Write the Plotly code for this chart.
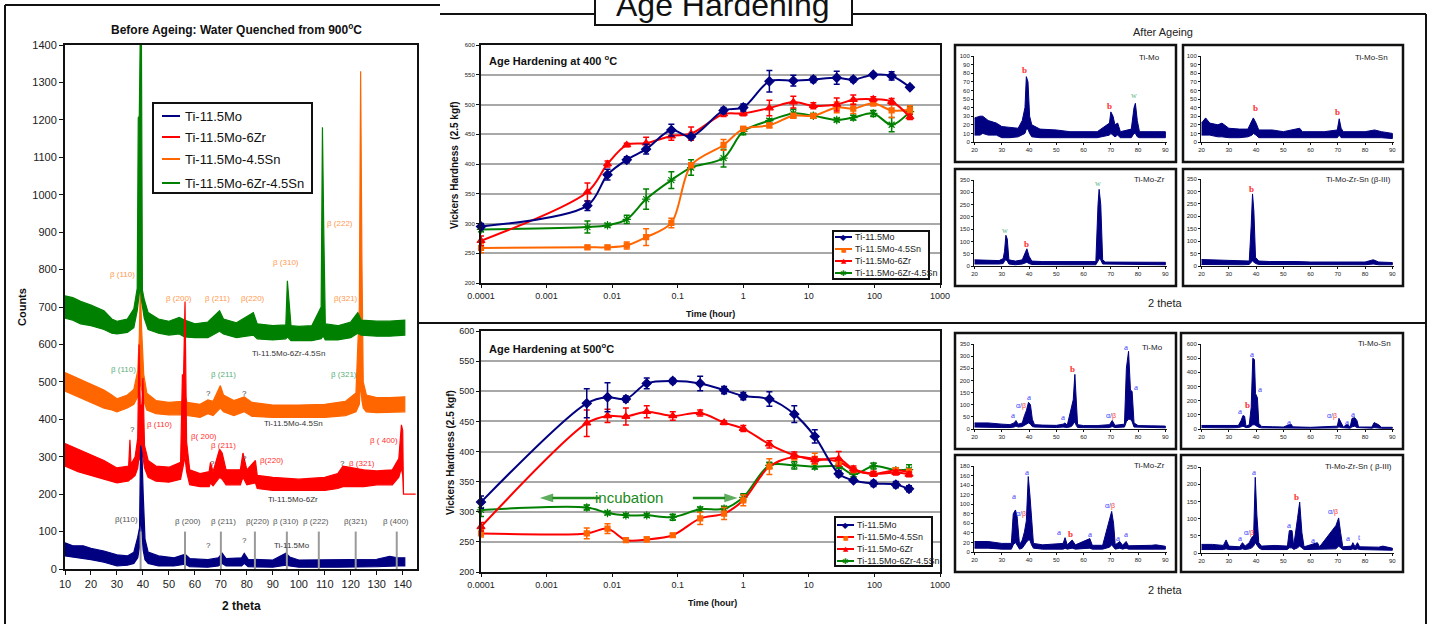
import math
import plotly.graph_objects as go

W, H = 1432, 624
FONT = "Liberation Sans, Arial, sans-serif"
SERIF = "Liberation Serif, Times New Roman, serif"
NAVY, RED, ORANGE, GREEN = "#000080", "#ff0000", "#ff6600", "#008000"

# ====================== DATA ======================
# Before ageing XRD (water quenched from 900 C): (2theta, lower, upper) envelope of each noisy trace
wq_mo = [(10,35,70),(13,30,62),(17,28,62),(20,25,55),(25,18,48),(30,8,38),(34,10,35),(36.5,15,45),
         (38,30,85),(38.7,60,110),(39.1,150,330),(39.6,100,310),(40.1,50,200),(40.8,25,80),(42,15,45),
         (46,8,35),(52,8,30),(55.5,12,38),(56.5,12,38),(58,6,28),(65,5,25),(69,8,30),(70.5,15,42),
         (72,8,28),(78,8,30),(79,15,42),(80.5,6,26),(90,5,24),(95,10,42),(96.5,8,32),(100,5,24),
         (115,5,24),(130,6,26),(135,8,34),(138,8,30),(140.8,8,30)]
wq_mo_zr = [(10,275,335),(15,260,320),(20,250,305),(25,240,290),(30,230,270),(34.5,235,275),(35,240,345),
            (35.4,240,280),(37,250,300),(38,270,350),(38.5,300,600),(39,290,430),(39.6,300,440),(40,300,510),
            (40.6,270,330),(42,245,290),(45,235,275),(50,232,272),(54.5,240,285),(55.2,260,520),(55.6,280,500),
            (56.2,300,715),(56.8,260,340),(58,225,265),(62,220,255),(65.5,220,260),(66,230,285),(67,222,260),
            (69.5,245,320),(70.5,240,310),(72,225,265),(77.5,225,265),(78.5,245,310),(80,225,265),(83.3,230,290),
            (84,215,250),(90,210,245),(100,210,240),(110,210,245),(115,215,255),(117,220,275),(125,220,265),
            (130,225,262),(136,225,265),(138.5,245,295),(139.5,270,385),(140,250,370),(140.3,200,200),(145,200,200)]
wq_mo_sn = [(10,475,525),(15,460,510),(20,445,495),(25,430,478),(28,425,465),(30,420,455),(34,430,465),
            (36.5,440,480),(38,460,530),(38.6,480,620),(39,500,760),(39.5,480,640),(40.3,450,520),(41.5,425,470),
            (45,415,450),(50,412,445),(55,412,448),(56,420,470),(57,410,445),(62,405,440),(65,415,452),(67,410,448),
            (69.8,430,490),(71,420,465),(75,410,450),(79,420,460),(82,408,445),(90,405,438),(100,405,438),
            (110,405,440),(118,410,448),(122,420,470),(123.3,440,700),(123.8,500,1330),(124.3,450,820),
            (124.8,430,500),(126,420,465),(130,418,458),(135,418,458),(140.8,420,460)]
wq_mo_zr_sn = [(10,670,730),(13,665,725),(16,655,715),(20,650,705),(25,640,690),(28,630,668),(30,628,662),
               (34,632,668),(36.5,645,695),(37.8,690,750),(38.2,720,1205),(38.6,740,1210),(39,760,1450),
               (39.4,720,1450),(39.8,700,745),(40.5,670,720),(42,640,685),(46,630,668),(50,625,662),(54,628,672),
               (56,620,665),(60,618,655),(65,618,660),(69.5,635,690),(71,628,668),(76,618,658),(82.5,625,685),
               (84,615,655),(90,612,650),(95,615,652),(95.6,620,770),(96.3,615,720),(97,610,650),(100,610,648),
               (105,610,650),(108.6,615,700),(109.1,620,1180),(109.6,620,910),(110.2,612,655),(115,612,650),
               (120,618,660),(122.7,630,685),(124,625,665),(130,622,662),(135,622,662),(140.8,625,665)]
wq_ref_theta = [39.1, 56.2, 70.0, 83.1, 95.4, 107.7, 121.9, 137.7]
wq_ref_height = 100

# peak labels of the before-ageing panel: (text, 2theta, counts)
wq_lbl_orange = [("β (110)",32.3,788),("β (200)",53.8,724),("β (211)",68.8,724),("β(220)",82.3,724),
                 ("β (310)",95.0,820),("β (222)",115.8,922),("β(321)",118.1,724)]
wq_lbl_green = [("β (110)",32.7,532),("β (211)",71.2,521),("β (321)",117.3,521)]
wq_lbl_red = [("β (110)",46.5,387),("β( 200)",63.5,353),("β (211)",71.2,329),("β(220)",89.6,291),
              ("β (321)",124.2,283),("β ( 400)",132.7,342)]
wq_lbl_grey = [("β(110)",33.5,131),("β (200)",57.4,126),("β (211)",71.2,126),("β(220)",84.2,126),
               ("β (310)",95.0,126),("β (222)",106.5,126),("β(321)",121.9,126),("β (400)",137.3,126)]
wq_lbl_q = [(36.1,374),(66.9,283),(79.2,294),(116.9,281),(65.4,470),(79.2,470),(65.4,64),(79.2,75)]
wq_names = [("Ti-11.5Mo-6Zr-4.5Sn",96.2,577),("Ti-11.5Mo-4.5Sn",98.1,390),("Ti-11.5Mo-6Zr",97.7,187),("Ti-11.5Mo",97.3,64)]

# Age hardening at 400 C
t400 = [0.0001, 0.0042, 0.0085, 0.0167, 0.033, 0.08, 0.16, 0.5, 1, 2.5, 5.8, 11.7, 26.6, 47.6, 96, 183, 348]
hv400_mo = [295, 330, 382, 407, 425, 457, 446, 490, 495, 539, 540, 542, 545, 542, 550, 548, 529]
err400_mo = [5, 8, 9, 5, 8, 10, 3, 5, 6, 18, 9, 5, 11, 4, 3, 7, 3]
hv400_sn = [259, 260, 260, 263, 277, 301, 398, 432, 459, 465, 481, 481, 495, 493, 502, 490, 491]
err400_sn = [8, 3, 3, 6, 14, 8, 4, 9, 4, 4, 4, 3, 9, 8, 4, 12, 7]
hv400_zr = [271, 353, 400, 432, 435, 447, 451, 484, 485, 494, 504, 498, 500, 508, 509, 505, 479]
err400_zr = [8, 15, 5, 3, 10, 7, 11, 4, 4, 13, 10, 5, 11, 8, 4, 5, 4]
hv400_zrsn = [290, 294, 297, 307, 341, 373, 394, 410, 455, 473, 485, 481, 474, 478, 485, 466, 488]
err400_zrsn = [4, 10, 3, 7, 17, 14, 13, 15, 6, 3, 7, 4, 3, 4, 5, 12, 9]

# Age hardening at 500 C
t500 = [0.0001, 0.0041, 0.0085, 0.0162, 0.0337, 0.084, 0.22, 0.51, 1, 2.5, 6, 12.3, 28.5, 48, 97, 212, 337]
hv500_mo = [316, 480, 490, 487, 513, 517, 513, 502, 492, 487, 462, 425, 363, 352, 347, 345, 338]
err500_mo = [10, 24, 24, 5, 9, 4, 12, 6, 6, 12, 14, 11, 5, 3, 5, 5, 5]
hv500_sn = [264, 264, 272, 253, 254, 261, 289, 297, 319, 375, 391, 388, 383, 369, 363, 369, 366]
err500_sn = [6, 9, 8, 3, 4, 3, 10, 10, 9, 13, 5, 9, 5, 4, 4, 4, 5]
hv500_zr = [275, 447, 459, 458, 466, 459, 464, 448, 438, 412, 394, 386, 388, 371, 363, 365, 362]
err500_zr = [7, 22, 11, 14, 10, 7, 5, 3, 5, 6, 5, 5, 12, 5, 4, 4, 4]
hv500_zrsn = [303, 307, 298, 294, 294, 291, 304, 305, 324, 377, 377, 375, 375, 362, 376, 369, 370]
err500_zrsn = [11, 4, 3, 3, 3, 5, 4, 4, 6, 5, 6, 4, 3, 4, 5, 4, 8]
time_ticks = [0.0001, 0.001, 0.01, 0.1, 1, 10, 100, 1000]
time_tick_text = ["0.0001", "0.001", "0.01", "0.1", "1", "10", "100", "1000"]
incubation_span = (0.0065, 0.00079, 0.17, 0.82, 323)   # arrow tails/tips (hour) and level (HV)

# After ageing XRD: (2theta, lower, upper)
ag400_mo = [(20,8,28),(22,8,30),(23,10,30),(25,8,25),(28,8,22),(30,5,18),(33,5,17),(36,6,16),(37.5,8,25),
            (38.5,10,40),(39,15,76),(39.6,15,70),(40.2,10,30),(41,6,20),(44,5,15),(50,5,14),(55,5,12),(60,5,12),
            (65,5,12),(69.5,8,22),(70,10,35),(70.8,8,30),(71.5,6,20),(72.5,8,22),(73.5,5,12),(77.5,5,15),
            (78.5,10,40),(79,10,45),(79.7,6,25),(80.5,5,12),(85,5,12),(90,5,12)]
ag400_mo_sn = [(20,8,22),(21.5,8,28),(23,8,22),(26,6,20),(27.5,6,22),(30,5,16),(34,5,15),(37,6,15),(38.5,8,25),
               (39,10,28),(40,8,22),(41,5,14),(46,5,14),(50,5,12),(56,5,16),(57,5,12),(65,5,12),(69.8,5,14),
               (70.5,8,27),(71.2,5,16),(72,5,12),(80,5,12),(83.5,5,14),(86,5,12),(90,4,10)]
ag400_mo_zr = [(20,8,25),(25,8,25),(29,8,22),(30.5,10,30),(31,20,60),(31.5,25,125),(32,20,110),(32.6,8,25),
               (35,5,20),(37.5,8,25),(38.5,12,55),(39.2,15,70),(40,10,40),(41,6,20),(45,5,18),(55,5,17),
               (64.5,5,18),(65.3,20,250),(65.7,30,312),(66.3,25,250),(67,8,25),(68,5,16),(75,5,16),(80,5,18),
               (85,5,18),(90,5,15)]
ag400_mo_zr_sn = [(20,6,26),(25,6,24),(30,5,20),(35,5,18),(37.5,6,20),(38.2,15,160),(38.7,20,290),(39.2,18,220),
                  (39.8,10,35),(41,6,20),(45,5,18),(55,5,18),(60,5,16),(70,5,16),(80,5,16),(83,8,25),(85,5,16),
                  (90,5,14)]
ag500_mo = [(20,8,25),(25,8,25),(30,6,20),(33,6,18),(34.5,8,25),(35.2,12,35),(36,8,20),(37.5,10,25),(38.3,15,55),
            (39,20,75),(39.8,25,110),(40.5,20,100),(41.2,10,40),(42,8,18),(45,6,16),(50,6,15),(52.5,8,20),
            (53.2,8,25),(54,6,15),(55.5,10,80),(56.2,20,120),(56.8,30,225),(57.3,15,120),(57.8,6,18),(60,5,14),
            (65,5,14),(69.5,6,18),(70.5,10,35),(71.5,6,15),(75,8,20),(75.7,30,250),(76.5,40,320),(77.2,40,160),
            (77.8,30,155),(78.5,8,25),(80,5,14),(85,5,13),(90,5,12)]
ag500_mo_sn = [(20,10,25),(25,10,25),(30,8,20),(33.5,10,25),(34.5,15,60),(35.2,20,95),(35.8,15,90),(36.3,10,20),
               (37.5,12,30),(38.2,20,150),(38.8,30,500),(39.4,30,490),(39.8,25,250),(40.5,20,220),(41,12,40),
               (42,8,18),(46,8,16),(50,6,14),(52.8,8,35),(53.5,6,15),(60,6,12),(69.8,8,20),(70.4,15,75),
               (71.3,10,45),(72,6,14),(73.5,8,35),(74.5,6,14),(75.2,15,75),(76.2,20,80),(77,10,60),(77.6,6,14),
               (82.5,6,14),(83.3,10,45),(85,8,30),(86,5,12),(90,5,12)]
ag500_mo_zr = [(20,8,22),(25,8,22),(30,6,18),(33.5,6,18),(34.2,15,80),(35,20,88),(35.6,15,75),(36.5,6,15),
               (37.5,8,25),(38.3,15,42),(39,20,65),(39.7,25,158),(40.3,25,120),(40.9,15,70),(41.6,8,18),(45,6,15),
               (52.5,6,18),(53.2,8,30),(54,6,15),(55.8,8,25),(57,6,15),(62.3,8,28),(63.2,6,14),(67,6,14),
               (69.5,10,65),(70.3,15,85),(71,10,60),(71.6,6,15),(73.3,8,22),(74.3,6,14),(75.6,8,22),(76.5,6,13),
               (85,6,14),(86.5,6,15),(90,6,12)]
ag500_mo_zr_sn = [(20,10,25),(24,10,25),(28,10,22),(29,12,38),(30,10,20),(34,10,18),(35,12,30),(36,10,20),
                  (37.5,12,30),(38.4,15,45),(39.1,20,50),(39.7,30,220),(40.3,25,110),(41,15,30),(42,10,20),
                  (47,10,22),(51.5,10,20),(52.2,15,65),(53.2,15,65),(53.8,10,20),(55.2,15,100),(56.0,20,148),
                  (56.8,15,60),(57.6,10,18),(62.5,10,30),(63.3,10,18),(69.3,12,80),(70.3,20,102),(71,15,60),
                  (71.8,10,18),(75,10,20),(75.5,12,30),(76.3,10,18),(77.2,12,30),(78,10,18),(85,8,17),
                  (86.5,8,20),(90,8,14)]

# peak labels of the after-ageing panels: (kind, 2theta, intensity)
lb400_mo = [("b",38.3,84),("b",69.6,42),("w",78.5,54)]
lb400_mo_sn = [("b",39.8,40),("b",69.7,35)]
lb400_mo_zr = [("w",31.0,146),("b",39.1,91),("w",65.4,336)]
lb400_mo_zr_sn = [("b",38.3,309)]
lb500_mo = [("a",34.0,56),("ab",37.0,96),("a",39.9,130),("a",52.3,48),("b",55.8,246),("ab",70.0,55),
            ("a",75.6,336),("a",79.2,171)]
lb500_mo_sn = [("a",34.0,124),("b",36.8,166),("a",38.5,532),("a",41.3,281),("a",52.2,52),("ab",67.8,89),
               ("a",73.2,52),("a",75.4,108)]
lb500_mo_zr = [("a",34.3,117),("ab",37.0,80),("a",39.2,167),("a",50.8,41),("b",55.1,38),("a",62.5,38),
               ("ab",69.8,96),("a",72.8,29),("a",75.6,38)]
lb500_mo_zr_sn = [("a",34.0,44),("ab",37.4,58),("a",39.1,236),("a",52.2,80),("b",54.9,163),("a",60.9,38),
                  ("ab",68.4,120),("a",73.8,45),("t",78.0,45)]

# ====================== LAYOUT HELPERS ======================
def PX(x): return x / W
def PY(y): return 1 - y / H

fig = go.Figure()
shapes, annotations = [], []

def band_trace(data, color, xa, ya, width=1.0):
    th = [p[0] for p in data]; lo = [p[1] for p in data]; hi = [p[2] for p in data]
    return go.Scatter(x=th + th[::-1], y=hi + lo[::-1], mode="lines", fill="toself", fillcolor=color,
                      line=dict(color=color, width=width), xaxis=xa, yaxis=ya,
                      hoverinfo="skip", showlegend=False)

def hv_trace(t, v, e, lcolor, mcolor, symbol, size, xa, ya):
    return go.Scatter(x=t, y=v, mode="lines+markers",
                      line=dict(color=lcolor, width=2, shape="spline", smoothing=0.9),
                      marker=dict(symbol=symbol, size=size, color=mcolor, line=dict(color=mcolor, width=1.2)),
                      error_y=dict(type="data", array=e, color=mcolor, thickness=1.5, width=3),
                      xaxis=xa, yaxis=ya, showlegend=False, cliponaxis=False)

def ann(text, x, y, xref="paper", yref="paper", size=10, color="black", family=FONT,
        xanchor="center", yanchor="middle", angle=0):
    annotations.append(dict(text=text, x=x, y=y, xref=xref, yref=yref, showarrow=False,
                            font=dict(size=size, color=color, family=family),
                            xanchor=xanchor, yanchor=yanchor, textangle=angle))

def pline(x0, y0, x1, y1, w=2, color="#111"):
    shapes.append(dict(type="line", xref="paper", yref="paper", x0=PX(x0), y0=PY(y0), x1=PX(x1), y1=PY(y1),
                       line=dict(color=color, width=w)))

def prect(x0, y0, x1, y1, w=2, color="#111", fill="rgba(0,0,0,0)"):
    shapes.append(dict(type="rect", xref="paper", yref="paper", x0=PX(x0), y0=PY(y0), x1=PX(x1), y1=PY(y1),
                       line=dict(color=color, width=w), fillcolor=fill))

layout_axes = {}

# ====================== LEFT PANEL: before ageing ======================
for data, col in [(wq_mo_sn, ORANGE), (wq_mo_zr_sn, GREEN), (wq_mo_zr, RED), (wq_mo, NAVY)]:
    fig.add_trace(band_trace(data, col, "x", "y", 1.2))
rx, ry = [], []
for th in wq_ref_theta:
    rx += [th, th, None]; ry += [0, wq_ref_height, None]
fig.add_trace(go.Scatter(x=rx, y=ry, mode="lines", line=dict(color="#9a9a9a", width=2),
                         hoverinfo="skip", showlegend=False, xaxis="x", yaxis="y"))

layout_axes["xaxis"] = dict(domain=[PX(65), PX(417)], range=[10, 145.5], tickvals=list(range(10, 150, 10)),
                            anchor="y")
layout_axes["yaxis"] = dict(domain=[PY(569), PY(45)], range=[0, 1400], dtick=100, anchor="x")
for k in ("xaxis", "yaxis"):
    layout_axes[k].update(showline=True, linewidth=2, linecolor="#111", mirror=True, ticks="outside",
                          ticklen=4, tickcolor="#111", showgrid=False, zeroline=False,
                          tickfont=dict(size=11, color="#222", family=FONT))

for txt, th, c in wq_lbl_orange:
    ann(txt, th, c, "x", "y", 8, "#ff9a50")
for txt, th, c in wq_lbl_green:
    ann(txt, th, c, "x", "y", 8, "#5cae7c")
for txt, th, c in wq_lbl_red:
    ann(txt, th, c, "x", "y", 8, "#ff3030")
for txt, th, c in wq_lbl_grey:
    ann(txt, th, c, "x", "y", 8, "#555555")
for th, c in wq_lbl_q:
    ann("?", th, c, "x", "y", 8, "#444444")
for txt, th, c in wq_names:
    ann(txt, th, c, "x", "y", 8, "#333333")

ann("<b>Before Ageing: Water Quenched from 900<sup>o</sup>C</b>", PX(236), PY(29), size=12, color="#111")
ann("<b>2 theta</b>", PX(241), PY(606), size=12, color="#111")
ann("<b>Counts</b>", PX(22), PY(307), size=11, color="#111", angle=-90)

# legend (left)
prect(153, 103, 312, 193, 2, "#111", "white")
for i, (name, col) in enumerate([("Ti-11.5Mo", NAVY), ("Ti-11.5Mo-6Zr", RED),
                                 ("Ti-11.5Mo-4.5Sn", ORANGE), ("Ti-11.5Mo-6Zr-4.5Sn", GREEN)]):
    yy = [116, 137, 159, 183][i]
    pline(162, yy, 180, yy, 2, col)
    ann(name, PX(183), PY(yy), size=13, color="#111", xanchor="left")

# ====================== MIDDLE: age hardening ======================
mid_common = dict(showline=True, linewidth=2, linecolor="#111", mirror=True, ticks="outside", ticklen=3,
                  tickcolor="#111", zeroline=False)
for idx, (ytop, ybot, ytick) in {"2": (45, 283, 6), "3": (331, 572, 9)}.items():
    layout_axes["xaxis" + idx] = dict(domain=[PX(481), PX(940)], type="log", range=[-4, 3],
                                      tickvals=time_ticks, ticktext=time_tick_text, showgrid=False,
                                      anchor="y" + idx, tickfont=dict(size=9, color="#222", family=FONT),
                                      **mid_common)
    layout_axes["yaxis" + idx] = dict(domain=[PY(ybot), PY(ytop)], range=[200, 600], dtick=50,
                                      showgrid=True, gridcolor="#a8a8a8", gridwidth=1.5, anchor="x" + idx,
                                      tickfont=dict(size=ytick, color="#222", family=FONT), **mid_common)

fig.add_trace(hv_trace(t400, hv400_zrsn, err400_zrsn, GREEN, GREEN, "asterisk-open", 7, "x2", "y2"))
fig.add_trace(hv_trace(t400, hv400_sn, err400_sn, ORANGE, ORANGE, "square", 5, "x2", "y2"))
fig.add_trace(hv_trace(t400, hv400_zr, err400_zr, RED, RED, "triangle-up", 7, "x2", "y2"))
fig.add_trace(hv_trace(t400, hv400_mo, err400_mo, NAVY, NAVY, "diamond", 7, "x2", "y2"))

fig.add_trace(hv_trace(t500, hv500_zrsn, err500_zrsn, GREEN, GREEN, "asterisk-open", 7, "x3", "y3"))
fig.add_trace(hv_trace(t500, hv500_sn, err500_sn, RED, ORANGE, "square", 5, "x3", "y3"))
fig.add_trace(hv_trace(t500, hv500_zr, err500_zr, RED, RED, "triangle-up", 7, "x3", "y3"))
fig.add_trace(hv_trace(t500, hv500_mo, err500_mo, NAVY, NAVY, "diamond", 7, "x3", "y3"))

ann("<b>Age Hardening at 400 <sup>o</sup>C</b>", PX(487), PY(60), size=11, color="#111", xanchor="left")
ann("<b>Age Hardening at 500<sup>o</sup>C</b>", PX(487), PY(348), size=11, color="#111", xanchor="left")
ann("<b>Vickers Hardness  (2.5 kgf)</b>", PX(455), PY(165), size=10, color="#111", angle=-90)
ann("<b>Vickers Hardness (2.5 kgf)</b>", PX(450), PY(453), size=10, color="#111", angle=-90)
ann("<b>Time (hour)</b>", PX(710), PY(314), size=9, color="#111")
ann("<b>Time (hour)</b>", PX(712), PY(603), size=9, color="#111")

# incubation arrows (line + arrow-head marker at the tip)
l_tail, l_tip, r_tail, r_tip, lev = incubation_span
for tail, tip in [(l_tail, l_tip), (r_tail, r_tip)]:
    fig.add_trace(go.Scatter(x=[tail, tip], y=[lev, lev], mode="lines+markers",
                             line=dict(color="#1a8a1a", width=2.5),
                             marker=dict(symbol=["circle", "arrow"], size=[0.1, 14], angleref="previous",
                                         color="#1a8a1a", line=dict(width=0)),
                             xaxis="x3", yaxis="y3", hoverinfo="skip", showlegend=False, cliponaxis=False))
ann("incubation", math.log10(0.018), lev, "x3", "y3", 15, "#1a8a1a")

# custom legends for middle charts
def hv_legend(x0, y0, x1, y1, rows, entries):
    prect(x0, y0, x1, y1, 2, "#111", "white")
    for yy, (name, lcol, mcol, glyph, gsize) in zip(rows, entries):
        pline(x0 + 2, yy, x0 + 19, yy, 2, lcol)
        ann(glyph, PX(x0 + 10.5), PY(yy), size=gsize, color=mcol, family="DejaVu Sans")
        ann(name, PX(x0 + 20), PY(yy), size=9, color="#222", xanchor="left")

hv_legend(833, 231, 929, 279, [237, 249, 261, 273],
          [("Ti-11.5Mo", NAVY, NAVY, "◆", 8), ("Ti-11.5Mo-4.5Sn", ORANGE, ORANGE, "■", 6),
           ("Ti-11.5Mo-6Zr", RED, RED, "▲", 7), ("Ti-11.5Mo-6Zr-4.5Sn", GREEN, GREEN, "✱", 8)])
hv_legend(835, 517, 932, 566, [525, 537, 549, 561],
          [("Ti-11.5Mo", NAVY, NAVY, "◆", 8), ("Ti-11.5Mo-4.5Sn", RED, ORANGE, "■", 6),
           ("Ti-11.5Mo-6Zr", RED, RED, "▲", 7), ("Ti-11.5Mo-6Zr-4.5Sn", GREEN, GREEN, "✱", 8)])

# ====================== RIGHT: after ageing ======================
small = [
    # axis, data, labels, name, ymax, dtick, plot(x0,x1,ytop,ybot), frame(x0,y0,x1,y1), name pos (right x, y)
    ("4", ag400_mo, lb400_mo, "Ti-Mo", 100, 10, (974, 1167, 56, 142), (955, 45, 1176, 162), (1162, 57)),
    ("5", ag400_mo_sn, lb400_mo_sn, "Ti-Mo-Sn", 100, 10, (1201, 1394, 56, 142), (1183, 45, 1403, 162), (1390, 57)),
    ("6", ag400_mo_zr, lb400_mo_zr, "Ti-Mo-Zr", 350, 50, (974, 1167, 180, 266), (955, 169, 1176, 286), (1167, 179)),
    ("7", ag400_mo_zr_sn, lb400_mo_zr_sn, "Ti-Mo-Zr-Sn (β-III)", 350, 50, (1201, 1394, 179, 266),
     (1183, 169, 1403, 286), (1393, 179)),
    ("8", ag500_mo, lb500_mo, "Ti-Mo", 350, 50, (974, 1167, 344, 429), (955, 333, 1176, 449), (1165, 347)),
    ("9", ag500_mo_sn, lb500_mo_sn, "Ti-Mo-Sn", 600, 100, (1201, 1394, 344, 429), (1181, 333, 1403, 449),
     (1393, 343)),
    ("10", ag500_mo_zr, lb500_mo_zr, "Ti-Mo-Zr", 180, 20, (974, 1167, 466, 552), (955, 455, 1176, 572),
     (1167, 465)),
    ("11", ag500_mo_zr_sn, lb500_mo_zr_sn, "Ti-Mo-Zr-Sn ( β-III)", 250, 50, (1201, 1394, 467, 553),
     (1181, 455, 1403, 572), (1394, 466)),
]
small_common = dict(showline=True, linewidth=1, linecolor="#111", ticks="outside", ticklen=2,
                    tickcolor="#111", showgrid=False, zeroline=False,
                    tickfont=dict(size=6, color="#222", family=FONT))
label_style = {
    "a": ("a", "#3a3aff", 9, SERIF),
    "b": ("<b>b</b>", "#ff3333", 9, SERIF),
    "w": ("w", "#5cb888", 8, SERIF),
    "t": ("t", "#3a3aff", 8, SERIF),
    "ab": ('<span style="color:#3a3aff">α/</span><span style="color:#ff3333">β</span>', "#3a3aff", 7, FONT),
}
for ax, data, labels, name, ymax, dt, (px0, px1, pyt, pyb), (fx0, fy0, fx1, fy1), (nx, ny) in small:
    prect(fx0, fy0, fx1, fy1, 2.5, "#111")
    layout_axes["xaxis" + ax] = dict(domain=[PX(px0), PX(px1)], range=[19.8, 90.6],
                                     tickvals=list(range(20, 100, 10)), anchor="y" + ax, **small_common)
    layout_axes["yaxis" + ax] = dict(domain=[PY(pyb), PY(pyt)], range=[0, ymax], dtick=dt,
                                     anchor="x" + ax, **small_common)
    fig.add_trace(band_trace(data, NAVY, "x" + ax, "y" + ax, 1.0))
    for kind, th, inten in labels:
        txt, col, sz, fam = label_style[kind]
        ann(txt, th, inten, "x" + ax, "y" + ax, sz, col, fam)
    ann(name, PX(nx), PY(ny), size=8, color="#222", xanchor="right")

ann("After Ageing", PX(1163), PY(32), size=11, color="#222")
ann("2 theta", PX(1165), PY(303), size=11, color="#222")
ann("2 theta", PX(1165), PY(590), size=11, color="#222")

# ====================== FRAMES & MAIN TITLE ======================
pline(5, 5, 440, 5)
pline(440, 14, 595, 14)
pline(852, 14, 1426, 14)
pline(5, 5, 5, 624)
pline(1426, 14, 1426, 624)
pline(418, 323, 1426, 323)
prect(595, -6, 852, 25, 2, "#111", "white")
ann("Age Hardening", PX(722), PY(5), size=32, color="#111")

fig.update_layout(width=W, height=H, margin=dict(l=0, r=0, t=0, b=0, autoexpand=False),
                  paper_bgcolor="white", plot_bgcolor="white", showlegend=False, shapes=shapes,
                  annotations=annotations, font=dict(family=FONT), **layout_axes)
fig.write_html("out.html", config={"displayModeBar": False},
               post_script="document.body.style.margin='0px';document.body.style.overflow='hidden';")
